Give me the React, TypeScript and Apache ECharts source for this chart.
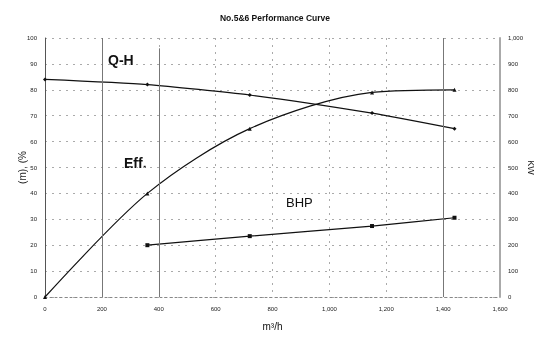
import React, { useEffect, useRef } from "react";
import * as echarts from "echarts";

const flow = [0, 360, 720, 1150, 1440];
const headQH = [84, 82, 78, 71, 65];
const efficiency = [0, 40, 65, 79, 80];
const bhpFlow = [360, 720, 1150, 1440];
const bhpKW = [200, 235, 274, 306];

const fmt = (v: number) => v.toLocaleString("en-US");

export default function App() {
  const ref = useRef<HTMLDivElement>(null);
  useEffect(() => {
    const chart = echarts.init(ref.current!, null, { renderer: "svg" });
    const font = "Liberation Sans";
    const grid = { show: true, lineStyle: { color: "#aaa", type: [2, 5] as any, width: 1 } };
    chart.setOption({
      animation: false,
      textStyle: { fontFamily: font },
      title: {
        text: "No.5&6 Performance Curve",
        left: 270,
        textAlign: "center",
        top: 8,
        textStyle: { fontSize: 8.5, fontWeight: "bold", color: "#111", fontFamily: font },
      },
      grid: { left: 45, right: 37, top: 38, bottom: 40, outerBoundsMode: "none" } as any,
      xAxis: {
        type: "value",
        min: 0,
        max: 1600,
        interval: 200,
        name: "m³/h",
        nameLocation: "middle",
        nameGap: 24,
        nameMoveOverlap: false,
        nameTextStyle: { fontSize: 10, color: "#111" },
        axisLine: { show: true, onZero: false, lineStyle: { color: "#888", type: [2, 3] as any } },
        axisTick: { show: false },
        axisLabel: { fontSize: 6, color: "#222", margin: 9, formatter: fmt },
        splitLine: grid,
      } as any,
      yAxis: [
        {
          type: "value",
          min: 0,
          max: 100,
          interval: 10,
          name: "(m), (%",
          nameLocation: "middle",
          nameGap: 18,
          nameMoveOverlap: false,
          nameTextStyle: { fontSize: 10, color: "#222" },
          axisLine: { show: true, lineStyle: { color: "#555" } },
          axisTick: { show: false },
          axisLabel: { fontSize: 6, color: "#222", margin: 8 },
          splitLine: grid,
        },
        {
          type: "value",
          min: 0,
          max: 1000,
          interval: 100,
          name: "KW",
          nameLocation: "middle",
          nameGap: 26,
          nameRotate: -90,
          nameMoveOverlap: false,
          nameTextStyle: { fontSize: 9, color: "#222" },
          axisLine: { show: true, lineStyle: { color: "#aaa", width: 2 } },
          axisTick: { show: false },
          axisLabel: { fontSize: 6, color: "#222", margin: 8, formatter: fmt },
          splitLine: { show: false },
        },
      ] as any,
      series: [
        {
          type: "line",
          name: "Q-H",
          data: flow.map((x, i) => [x, headQH[i]]),
          smooth: 0.2,
          symbol: "diamond",
          symbolSize: 4,
          itemStyle: { color: "#111" },
          lineStyle: { color: "#111", width: 1.2 },
          markLine: {
            silent: true,
            symbol: "none",
            label: { show: false },
            lineStyle: { color: "#777", type: "solid", width: 1 },
            data: [
              [{ coord: [200, 0] }, { coord: [200, 100] }],
              [{ coord: [400, 0] }, { coord: [400, 96] }],
              [{ coord: [1400, 0] }, { coord: [1400, 100] }],
            ],
          },
        },
        {
          type: "line",
          name: "Eff.",
          data: flow.map((x, i) => [x, efficiency[i]]),
          smooth: 0.3,
          symbol: "triangle",
          symbolSize: 4,
          itemStyle: { color: "#111" },
          lineStyle: { color: "#111", width: 1.2 },
        },
        {
          type: "line",
          name: "BHP",
          yAxisIndex: 1,
          data: bhpFlow.map((x, i) => [x, bhpKW[i]]),
          smooth: 0.2,
          symbol: "rect",
          symbolSize: 4,
          itemStyle: { color: "#111" },
          lineStyle: { color: "#111", width: 1.2 },
        },
      ],
      graphic: [
        { type: "text", left: 108, top: 53, style: { text: "Q-H", fontSize: 14, fontWeight: "bold", fill: "#111", fontFamily: font } },
        { type: "text", left: 124, top: 156, style: { text: "Eff.", fontSize: 14, fontWeight: "bold", fill: "#111", fontFamily: font } },
        { type: "text", left: 286, top: 196, style: { text: "BHP", fontSize: 13, fill: "#111", fontFamily: font } },
      ],
    });
    return () => chart.dispose();
  }, []);
  return <div ref={ref} style={{ position: "fixed", left: 0, top: 0, width: 537, height: 337 }} />;
}
